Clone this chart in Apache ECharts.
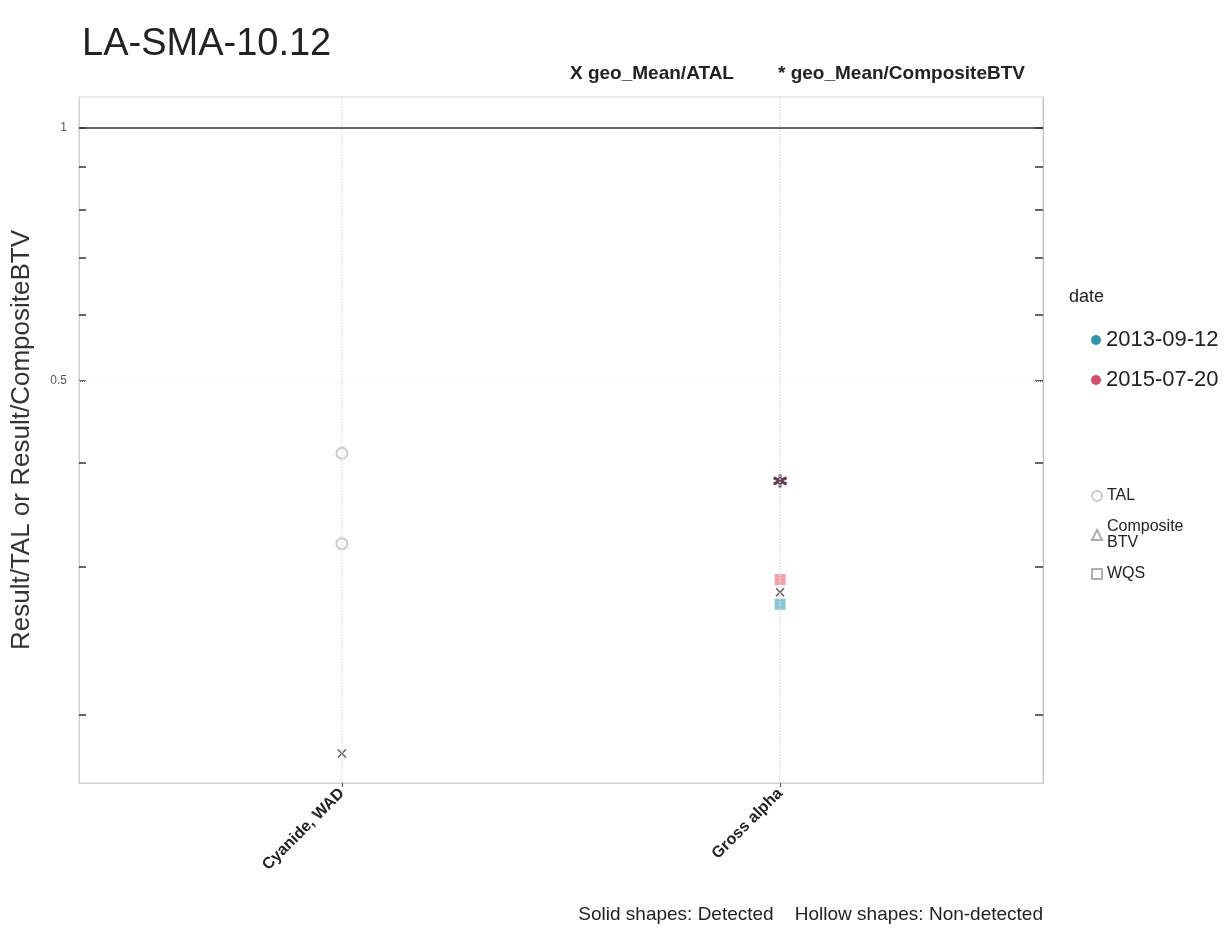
<!DOCTYPE html>
<html>
<head>
<meta charset="utf-8">
<script src="https://cdn.jsdelivr.net/npm/echarts@6/dist/echarts.min.js"></script>
<style>
html,body{margin:0;padding:0;background:#fff;}
#chart{width:1229px;height:933px;}
</style>
</head>
<body>
<div id="chart"></div>
<script>
// ---- data ----
var categories = ['Cyanide, WAD', 'Gross alpha'];
var yTickValues = [0.2, 0.3, 0.4, 0.5, 0.6, 0.7, 0.8, 0.9, 1];
var yLabelValues = [0.5, 1];
var dateNames = ['2013-09-12', '2015-07-20'];
var dateColors = ['#6fb6c9', '#ee8a95'];
var dateLegendColors = ['#2e95a8', '#d0506a'];
// hollow TAL (non-detected) points: [category index, ratio]
var talNonDetect = [[0, 0.41], [0, 0.32]];
// WQS solid (detected) points per date
var wqs2013 = [[1, 0.271]];
var wqs2015 = [[1, 0.29]];
// geometric means
var geoMeanATAL = [[0, 0.18], [1, 0.28]];
var geoMeanBTV = [[1, 0.38]];

var FONT = 'Liberation Sans, Arial, sans-serif';
var xPath = 'path://M0,0L10,10M10,0L0,10';
var starPath = 'path://M5,0L5,10M0.67,2.5L9.33,7.5M0.67,7.5L9.33,2.5';

var chart = echarts.init(document.getElementById('chart'));
var option = {
  backgroundColor: '#ffffff',
  animation: false,
  textStyle: { fontFamily: FONT },
  title: [
    { text: 'LA-SMA-10.12', left: 77, top: 21,
      textStyle: { fontSize: 38, fontWeight: 'normal', color: '#222', fontFamily: FONT } }
  ],
  grid: { left: 79, right: 186, top: 97, bottom: 150, show: true, borderColor: '#d4d4d4', borderWidth: 1 },
  xAxis: {
    type: 'value', min: -0.6, max: 1.6,
    axisLine: { show: true, onZero: false, lineStyle: { color: '#cfcfcf' } },
    axisTick: { show: true, customValues: [0, 1], length: 4, lineStyle: { color: '#555' } },
    axisLabel: { customValues: [0, 1], rotate: 45, fontSize: 16, fontWeight: 'bold', color: '#222', margin: 8,
      formatter: function (v) { return categories[Math.round(v)] || ''; } },
    splitLine: { show: false }
  },
  yAxis: [
    { type: 'log', logBase: 10, min: 0.166, max: 1.089, position: 'left',
      name: 'Result/TAL or Result/CompositeBTV', nameLocation: 'middle', nameGap: 44,
      nameTextStyle: { fontSize: 26, color: '#333', fontFamily: FONT },
      axisLine: { show: true, onZero: false, lineStyle: { color: '#cfcfcf' } },
      axisTick: { show: true, inside: true, length: 7, customValues: yTickValues, lineStyle: { color: '#333', width: 1.5 } },
      axisLabel: { customValues: yLabelValues, fontSize: 12, color: '#555', margin: 12,
        formatter: function (v) { return String(+v.toFixed(2)); } },
      splitLine: { show: false }
    },
    { type: 'log', logBase: 10, min: 0.166, max: 1.089, position: 'right',
      axisLine: { show: true, onZero: false, lineStyle: { color: '#bdbdbd' } },
      axisTick: { show: true, inside: true, length: 8, customValues: yTickValues, lineStyle: { color: '#333', width: 1.5 } },
      axisLabel: { show: false },
      splitLine: { show: false }
    }
  ],
  legend: [
    { data: dateNames.map(function (n, i) { return { name: n, icon: 'circle', itemStyle: { color: dateLegendColors[i], opacity: 1 } }; }),
      orient: 'vertical', left: 1091, top: 329, padding: 0, itemWidth: 10, itemHeight: 10, itemGap: 18,
      textStyle: { fontSize: 22, color: '#222', lineHeight: 22 }, selectedMode: false },
    { data: [{ name: 'TAL', icon: 'emptyCircle' }, { name: 'Composite\nBTV', icon: 'emptyTriangle' }, { name: 'WQS', icon: 'emptyRect' }],
      orient: 'vertical', left: 1091, top: 488, padding: 0, itemWidth: 10, itemHeight: 10, itemGap: 15,
      textStyle: { fontSize: 16, color: '#222', lineHeight: 16 }, selectedMode: false }
  ],
  graphic: [
    { type: 'text', left: 1069, top: 288, style: { text: 'date', fontSize: 18, fill: '#222', fontFamily: FONT } },
    { type: 'text', left: 570, top: 64, style: { text: 'X geo_Mean/ATAL', fontSize: 19, fontWeight: 'bold', fill: '#222', fontFamily: FONT } },
    { type: 'text', right: 204, top: 64, style: { text: '* geo_Mean/CompositeBTV', fontSize: 19, fontWeight: 'bold', fill: '#222', fontFamily: FONT } },
    { type: 'text', right: 186, top: 905, style: { text: 'Solid shapes: Detected    Hollow shapes: Non-detected', fontSize: 19, fill: '#222', fontFamily: FONT } }
  ],
  series: [
    { name: 'guides', type: 'scatter', data: [], silent: true,
      markLine: { silent: true, symbol: 'none', label: { show: false },
        data: [
          { xAxis: 0, lineStyle: { color: '#dddddd', type: 'dotted', width: 1.5 } },
          { xAxis: 1, lineStyle: { color: '#dddddd', type: 'dotted', width: 1.5 } },
          { yAxis: 0.5, lineStyle: { color: '#eeeeee', type: 'dotted', width: 1 } },
          { yAxis: 1, lineStyle: { color: '#333333', type: 'solid', width: 1.5 } }
        ] } },
    { name: 'TAL', type: 'scatter', data: talNonDetect, symbol: 'emptyCircle', symbolSize: 11,
      itemStyle: { color: '#bdbdbd', borderColor: '#bdbdbd', borderWidth: 1.2 } },
    { name: 'Composite\nBTV', type: 'scatter', data: [], symbol: 'emptyTriangle', symbolSize: 10,
      itemStyle: { color: '#9a9a9a', borderColor: '#9a9a9a' } },
    { name: 'WQS', type: 'scatter', data: [], symbol: 'emptyRect', symbolSize: 9,
      itemStyle: { color: '#9a9a9a', borderColor: '#9a9a9a' } },
    { name: dateNames[1], type: 'scatter', data: wqs2015, symbol: 'rect', symbolSize: 11,
      itemStyle: { color: dateColors[1] } },
    { name: dateNames[0], type: 'scatter', data: wqs2013, symbol: 'rect', symbolSize: 11,
      itemStyle: { color: dateColors[0] } },
    { name: 'geoMeanATAL', type: 'scatter', data: geoMeanATAL, symbol: xPath, symbolSize: 8,
      itemStyle: { color: 'rgba(0,0,0,0)', borderColor: '#333', borderWidth: 1.5 } },
    { name: 'geoMeanBTV', type: 'scatter', data: geoMeanBTV, symbol: starPath, symbolSize: 13,
      itemStyle: { color: 'rgba(0,0,0,0)', borderColor: '#3c0c2a', borderWidth: 3 } }
  ]
};
chart.setOption(option);
</script>
</body>
</html>
